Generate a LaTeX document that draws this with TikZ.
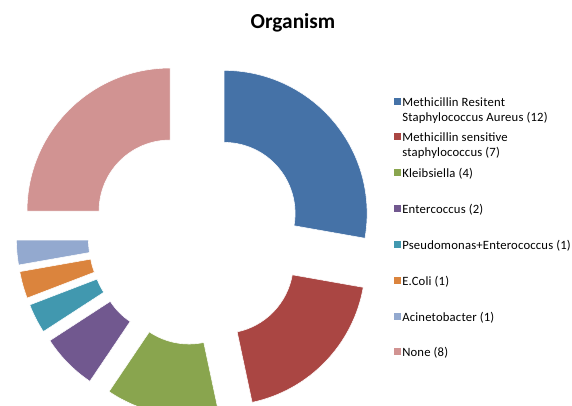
\documentclass[tikz,border=0pt]{standalone}
\usepackage{fontspec}
\setmainfont{Carlito}

\definecolor{mrsa}{HTML}{4572A7}
\definecolor{mssa}{HTML}{AA4643}
\definecolor{kleb}{HTML}{89A54E}
\definecolor{entero}{HTML}{71588F}
\definecolor{pseudo}{HTML}{4198AF}
\definecolor{ecoli}{HTML}{DB843D}
\definecolor{acineto}{HTML}{93A9CF}
\definecolor{nogrowth}{HTML}{D19392}

\begin{document}
\begin{tikzpicture}[x=0.75pt, y=0.75pt,
    slice/.style={draw=white, line width=0.4pt},
    keybox/.style={minimum size=5.25pt, inner sep=0pt},
    keytext/.style={anchor=north west, inner sep=0pt, align=left,
        font=\fontsize{9.5}{11.25}\selectfont\addfontfeature{LetterSpace=1.5}}]
\useasboundingbox (0,0) rectangle (572,406);
\clip (0,0) rectangle (572,406);

\node (title) at (293,383) {\fontsize{16}{19}\selectfont\bfseries Organism};

\begin{scope} [shift={(196,169)}]
    \filldraw[slice, fill=mrsa, shift={(40:36.7)}] (90:71) -- (90:143)
        arc[start angle=90, end angle=-10, radius=143] -- (-10:71)
        arc[start angle=-10, end angle=90, radius=71] -- cycle;
    \filldraw[slice, fill=mssa, shift={(-44:36.7)}] (-10:71) -- (-10:143)
        arc[start angle=-10, end angle=-78, radius=143] -- (-78:71)
        arc[start angle=-78, end angle=-10, radius=71] -- cycle;
    \filldraw[slice, fill=kleb, shift={(-101:36.7)}] (-78:71) -- (-78:143)
        arc[start angle=-78, end angle=-124, radius=143] -- (-124:71)
        arc[start angle=-124, end angle=-78, radius=71] -- cycle;
    \filldraw[slice, fill=entero, shift={(-135.5:36.7)}] (-124:71) -- (-124:143)
        arc[start angle=-124, end angle=-147, radius=143] -- (-147:71)
        arc[start angle=-147, end angle=-124, radius=71] -- cycle;
    \filldraw[slice, fill=pseudo, shift={(-153:36.7)}] (-147:71) -- (-147:143)
        arc[start angle=-147, end angle=-159, radius=143] -- (-159:71)
        arc[start angle=-159, end angle=-147, radius=71] -- cycle;
    \filldraw[slice, fill=ecoli, shift={(-164.5:36.7)}] (-159:71) -- (-159:143)
        arc[start angle=-159, end angle=-170, radius=143] -- (-170:71)
        arc[start angle=-170, end angle=-159, radius=71] -- cycle;
    \filldraw[slice, fill=acineto, shift={(-175:36.7)}] (-170:71) -- (-170:143)
        arc[start angle=-170, end angle=-180, radius=143] -- (-180:71)
        arc[start angle=-180, end angle=-170, radius=71] -- cycle;
    \filldraw[slice, fill=nogrowth, shift={(135:36.7)}] (180:71) -- (180:143)
        arc[start angle=180, end angle=90, radius=143] -- (90:71)
        arc[start angle=90, end angle=180, radius=71] -- cycle;
\end{scope}

%% legend
\node[keybox, fill=mrsa] (keyA) at (397,304) {};
\node[keytext] (txtA) at (402,309) {Methicillin Resitent\\Staphylococcus Aureus (12)};
\node[keybox, fill=mssa] (keyB) at (397,269) {};
\node[keytext] (txtB) at (402,274) {Methicillin sensitive\\staphylococcus (7)};
\node[keybox, fill=kleb] (keyC) at (397,233) {};
\node[keytext] (txtC) at (402,238) {Kleibsiella (4)};
\node[keybox, fill=entero] (keyD) at (397,197) {};
\node[keytext] (txtD) at (402,202) {Entercoccus (2)};
\node[keybox, fill=pseudo] (keyE) at (397,161) {};
\node[keytext] (txtE) at (402,166) {Pseudomonas+Enterococcus (1)};
\node[keybox, fill=ecoli] (keyF) at (397,125) {};
\node[keytext] (txtF) at (402,130) {E.Coli (1)};
\node[keybox, fill=acineto] (keyG) at (397,89) {};
\node[keytext] (txtG) at (402,94) {Acinetobacter (1)};
\node[keybox, fill=nogrowth] (keyH) at (397,54) {};
\node[keytext] (txtH) at (402,59) {None (8)};
\end{tikzpicture}
\end{document}
